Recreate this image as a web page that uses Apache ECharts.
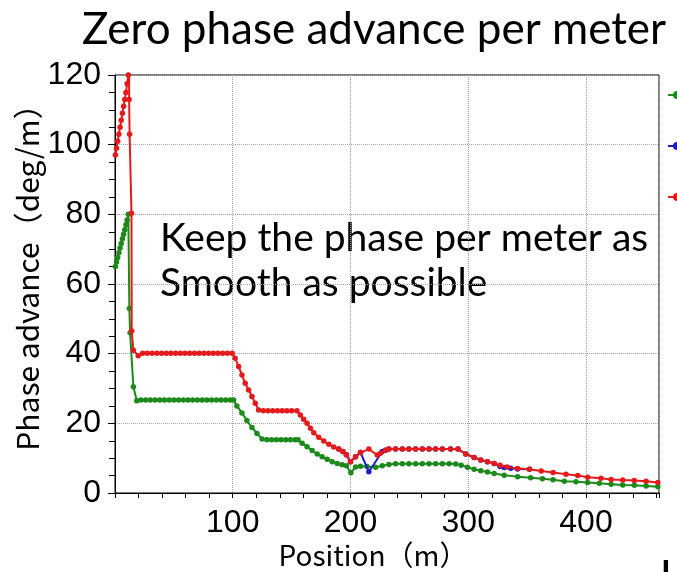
<!DOCTYPE html>
<html>
<head>
<meta charset="utf-8">
<script src="https://cdn.jsdelivr.net/npm/echarts@6/dist/echarts.min.js"></script>
<style>
  html, body { margin: 0; padding: 0; background: #fff; }
  #chart { width: 677px; height: 572px; }
</style>
</head>
<body>
<div id="chart"></div>
<script>
// Phase advance per metre along the line, three settings
const seriesNames = ['Setting A', 'Setting B', 'Setting C'];

const greenPos = [0.3, 1.3, 2.3, 3.3, 4.3, 5.3, 6.3, 7.3, 8.3, 9.3, 10.3, 11.3, 12.2, 12.8, 15.6, 18.5,
  22, 26, 30, 34, 38, 42, 46, 50, 54, 58, 62, 66, 70, 74, 78, 82, 86, 90, 94, 98,
  100.7, 103.5, 107.8, 112, 116.3, 120.6, 124.9,
  129, 133, 137, 141, 145, 149, 153, 155.5,
  158.9, 163.1, 167.4, 171.7, 175.9, 180.2, 184.4, 188.7, 192.9, 196.5, 200.3, 204.3, 208.5, 214,
  221.3, 227, 232.6, 238.3, 244, 249.6, 255.3, 261, 266.7, 272.3, 278, 283.7, 289.4, 294,
  299.3, 305, 310.6, 316.3, 322, 330.5, 341.9, 353, 363, 372, 381.6, 391.5, 401.4, 411.3,
  421.3, 431.2, 441.1, 451.1, 461];
const greenVal = [65, 66.3, 67.6, 69, 70.3, 71.6, 73, 74.3, 75.6, 77, 78.4, 80, 53, 46, 30.5, 26.5,
  26.7, 26.7, 26.7, 26.7, 26.7, 26.7, 26.7, 26.7, 26.7, 26.7, 26.7, 26.7, 26.7, 26.7, 26.7, 26.7, 26.7, 26.7, 26.7, 26.7,
  26.7, 25.0, 23.0, 20.8, 18.8, 17.1, 15.5,
  15.3, 15.3, 15.3, 15.3, 15.3, 15.3, 15.3, 15.3,
  14.3, 13.3, 12.2, 11.2, 10.4, 9.7, 9.0, 8.5, 8.1, 7.8, 5.8, 7.5, 7.7, 7.6,
  7.4, 7.8, 8.2, 8.4, 8.4, 8.4, 8.4, 8.4, 8.4, 8.4, 8.4, 8.4, 8.3, 8.0,
  7.4, 6.8, 6.4, 6.0, 5.6, 5.1, 4.7, 4.4, 4.1, 3.8, 3.4, 3.2, 3.0, 2.8,
  2.5, 2.3, 2.2, 2.0, 1.8];

const redPos = [0.3, 1.3, 2.3, 3.3, 4.3, 5.3, 6.3, 7.3, 8.3, 9.3, 10.3, 11.3, 12, 12, 12.4, 14, 14.2, 15.6, 19.7,
  23.5, 27.5, 31.5, 35.5, 39.5, 43.5, 47.5, 51.5, 55.5, 59.5, 63.5, 67.5, 71.5, 75.5, 79.5, 83.5, 87.5, 91.5, 95.5, 99.5,
  102, 105, 107.8, 110.6, 113.5, 116.3, 119.1, 122,
  126, 130, 134, 138, 142, 146, 150, 154.5,
  157.4, 160.2, 163.1, 166, 168.8, 173, 177.3, 181.6, 185.8, 190, 193.5, 196.5, 200, 204.3, 208.5, 215.6,
  222.7, 225.5, 229.8, 232.6, 238.3, 244, 249.6, 255.3, 261, 266.7, 272.3, 278, 285, 291.3,
  297.9, 305, 310.6, 316.3, 322, 327, 333, 341.9, 352, 362, 372, 383, 393, 401.4, 412.8,
  421.3, 431.2, 441, 451, 461];
const redVal = [97, 99, 101, 103, 105, 107, 109, 111, 113, 115, 117.5, 120, 123, 113, 103, 80.3, 46.5, 41, 39.4,
  40.1, 40.1, 40.1, 40.1, 40.1, 40.1, 40.1, 40.1, 40.1, 40.1, 40.1, 40.1, 40.1, 40.1, 40.1, 40.1, 40.1, 40.1, 40.1, 40.1,
  38.7, 36.3, 33.9, 31.5, 29.6, 27.7, 25.8, 23.8,
  23.6, 23.6, 23.6, 23.6, 23.6, 23.6, 23.6, 23.6,
  22.4, 21.2, 20.0, 18.6, 17.3, 16.0, 14.9, 14.0, 13.2, 12.6, 11.9, 11.0, 9.0, 10.4, 11.6, 12.6,
  10.9, 11.4, 12.3, 12.6, 12.6, 12.6, 12.6, 12.6, 12.6, 12.6, 12.6, 12.6, 12.6, 12.6,
  11.2, 10.2, 9.5, 9.0, 8.5, 8.0, 7.5, 7.0, 6.8, 6.3, 5.9, 5.4, 5.0, 4.5, 4.2,
  3.9, 3.7, 3.6, 3.4, 3.0];

const bluePos = [190, 193.5, 196.5, 200, 204.3, 208.5, 215.6, 227, 229.8, 232.6, 238.3, 244, 249.6, 255.3,
  261, 266.7, 272.3, 278, 285, 291.3, 297.9, 305, 310.6, 316.3, 322, 327, 330.5, 336, 341.9, 352];
const blueVal = [12.6, 11.9, 11.0, 9.0, 10.4, 11.6, 6.1, 11.9, 12.3, 12.6, 12.6, 12.6, 12.6, 12.6,
  12.6, 12.6, 12.6, 12.6, 12.6, 12.6, 11.2, 10.2, 9.5, 9.0, 8.5, 7.6, 7.3, 7.1, 6.9, 6.8];

const xTickLabels = [100, 200, 300, 400];
const yTickLabels = [0, 20, 40, 60, 80, 100, 120];

const pairs = (xs, ys) => xs.map((x, i) => [x, ys[i]]);

const GREEN = '#1b8a1b';
const BLUE = '#1c1cc8';
const RED = '#e41a1c';

const tickFont = { fontFamily: 'Liberation Sans', fontSize: 32, color: '#000' };

function lineSeries(name, data, color, z) {
  return {
    name, type: 'line', data, z,
    symbol: 'circle', symbolSize: 5.5, showAllSymbol: true,
    itemStyle: { color },
    lineStyle: { color, width: 2 },
    clip: true
  };
}

const chart = echarts.init(document.getElementById('chart'), null, { renderer: 'canvas' });
chart.setOption({
  animation: false,
  backgroundColor: '#fff',
  grid: { left: 115, top: 75, right: 18, bottom: 79, show: true, borderColor: '#000', borderWidth: 1, backgroundColor: 'transparent' },
  legend: {
    orient: 'vertical', left: 667, top: 90, padding: 0,
    itemWidth: 18, itemHeight: 10, itemGap: 41,
    textStyle: { fontSize: 8, lineHeight: 10, color: '#000' },
    data: seriesNames
  },
  xAxis: [
    {
      type: 'value', min: 0, max: 462, interval: 100, position: 'bottom',
      axisLine: { show: true, lineStyle: { color: '#000', width: 1 } },
      axisTick: { show: false },
      axisLabel: {
        ...tickFont, margin: 14,
        formatter: v => (xTickLabels.includes(v) ? String(v) : '')
      },
      splitLine: { show: true, lineStyle: { color: '#a0a0a0', type: 'dotted', width: 1 } }
    },
    {
      type: 'value', min: 0, max: 462, interval: 20, position: 'bottom',
      axisLine: { show: false },
      axisTick: { show: true, length: 5, lineStyle: { color: '#000' } },
      axisLabel: { show: false },
      splitLine: { show: false }
    }
  ],
  yAxis: {
    type: 'value', min: 0, max: 120, interval: 20,
    axisLine: { show: true, lineStyle: { color: '#000', width: 1 } },
    axisTick: { show: true, length: 7, lineStyle: { color: '#000' } },
    minorTick: { show: true, splitNumber: 4, length: 6, lineStyle: { color: '#000' } },
    axisLabel: { ...tickFont, margin: 14, formatter: v => (yTickLabels.includes(v) ? String(v) : '') },
    splitLine: { show: true, lineStyle: { color: '#a0a0a0', type: 'dotted', width: 1 } }
  },
  series: [
    lineSeries(seriesNames[0], pairs(greenPos, greenVal), GREEN, 3),
    lineSeries(seriesNames[1], pairs(bluePos, blueVal), BLUE, 4),
    lineSeries(seriesNames[2], pairs(redPos, redVal), RED, 5)
  ],
  graphic: [
    {
      type: 'text', x: 374, y: 30,
      style: { text: 'Zero phase advance per meter', font: '44px Lato', fill: '#000', align: 'center', verticalAlign: 'middle' }
    },
    {
      type: 'text', x: 160, y: 238,
      style: { text: 'Keep the phase per meter as', font: '39px Lato', fill: '#000', align: 'left', verticalAlign: 'middle' }
    },
    {
      type: 'text', x: 160, y: 283,
      style: { text: 'Smooth as possible', font: '39px Lato', fill: '#000', align: 'left', verticalAlign: 'middle' }
    },
    {
      type: 'text', x: 28, y: 270, rotation: Math.PI / 2,
      style: { text: 'Phase advance（deg/m）', font: '30px "Noto Sans CJK JP"', fill: '#000', align: 'center', verticalAlign: 'middle' }
    },
    {
      type: 'text', x: 373, y: 555,
      style: { text: 'Position（m）', font: '28px "Noto Sans CJK JP"', fill: '#000', align: 'center', verticalAlign: 'middle' }
    },
    {
      type: 'text', x: 666, y: 587,
      style: { text: 'I', font: 'bold 30px "Liberation Sans"', fill: '#000', align: 'center', verticalAlign: 'bottom' }
    }
  ]
});
</script>
</body>
</html>
